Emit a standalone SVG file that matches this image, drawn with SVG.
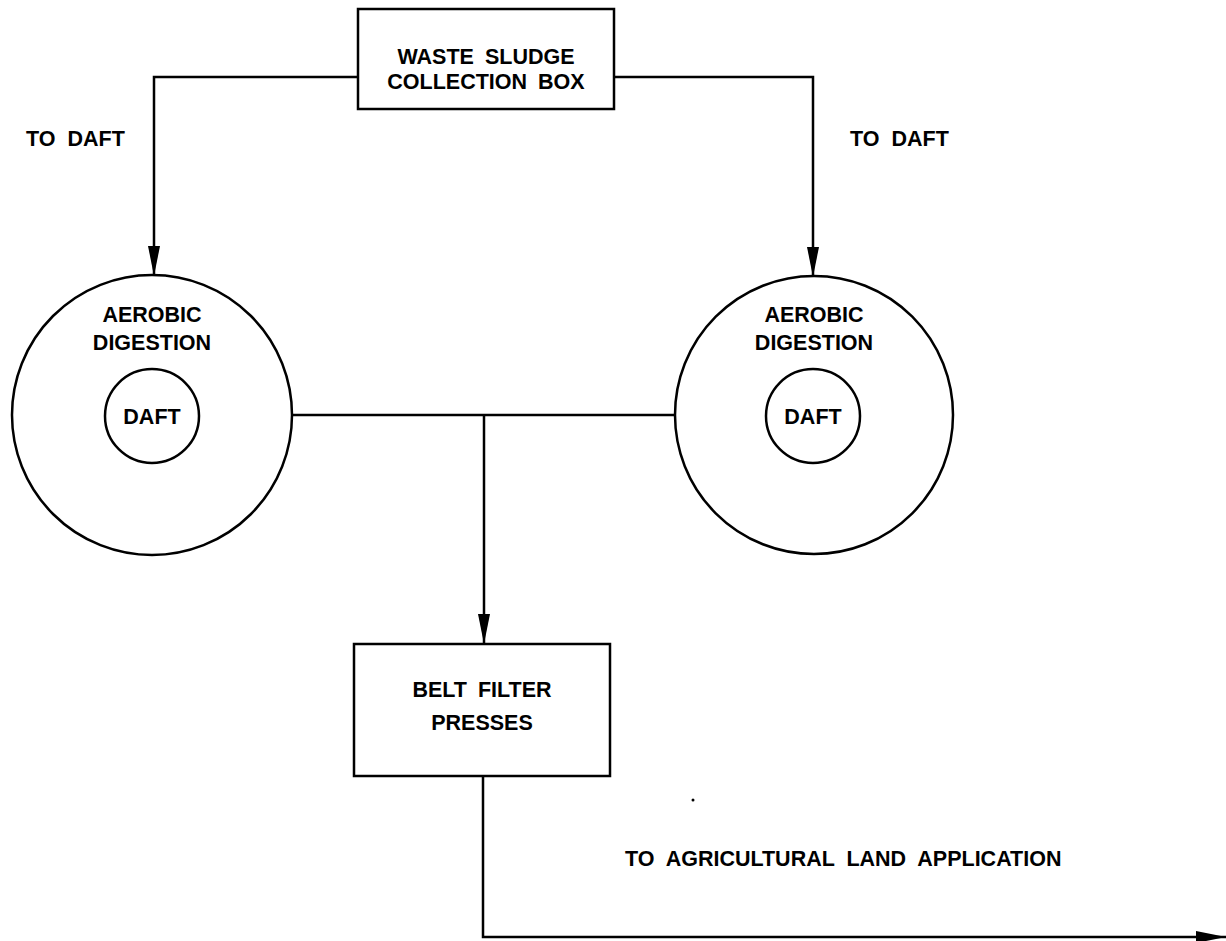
<svg xmlns="http://www.w3.org/2000/svg" width="1226" height="941" viewBox="0 0 1226 941">
<style>
.ln{fill:none;stroke:#000;stroke-width:2.5}
.sh{fill:#fff;stroke:#000;stroke-width:2.5}
.t{font-family:"Liberation Sans",Arial,sans-serif;font-weight:bold;font-size:21.5px;fill:#000;text-anchor:middle;word-spacing:5px}
.tl{font-family:"Liberation Sans",Arial,sans-serif;font-weight:bold;font-size:21.5px;fill:#000;word-spacing:6px}
</style>
<defs>
<marker id="ah" viewBox="0 0 30 12" refX="30" refY="6" markerWidth="30" markerHeight="12" markerUnits="userSpaceOnUse" orient="auto">
<path d="M0,0 L30,6 L0,12 Z" fill="#000"/>
</marker>
</defs>
<rect width="1226" height="941" fill="#fff"/>
<g id="connectors">
<path class="ln" d="M358,77 H154 V276" marker-end="url(#ah)"/>
<path class="ln" d="M614,77 H813 V277" marker-end="url(#ah)"/>
<path class="ln" d="M292,415 H675"/>
<path class="ln" d="M484,415 V644" marker-end="url(#ah)"/>
<path class="ln" d="M483,776 V937 H1226" marker-end="url(#ah)"/>
</g>
<g id="waste-sludge-box">
<rect class="sh" x="358" y="9" width="256" height="100"/>
<text class="t" x="486" y="64">WASTE SLUDGE</text>
<text class="t" x="486" y="89">COLLECTION BOX</text>
</g>
<g id="label-left">
<text class="tl" x="26" y="146">TO DAFT</text>
</g>
<g id="label-right">
<text class="tl" x="850" y="146">TO DAFT</text>
</g>
<g id="aerobic-left">
<circle class="sh" cx="152" cy="415" r="140"/>
<text class="t" x="152" y="322">AEROBIC</text>
<text class="t" x="152" y="350">DIGESTION</text>
</g>
<g id="daft-left">
<circle class="sh" cx="152" cy="416" r="47"/>
<text class="t" x="152" y="424">DAFT</text>
</g>
<g id="aerobic-right">
<circle class="sh" cx="814" cy="415" r="139"/>
<text class="t" x="814" y="322">AEROBIC</text>
<text class="t" x="814" y="350">DIGESTION</text>
</g>
<g id="daft-right">
<circle class="sh" cx="813" cy="416" r="47"/>
<text class="t" x="813" y="424">DAFT</text>
</g>
<g id="belt-filter">
<rect class="sh" x="354" y="644" width="256" height="132"/>
<text class="t" x="482" y="697">BELT FILTER</text>
<text class="t" x="482" y="730">PRESSES</text>
</g>
<g id="label-agri">
<text class="tl" x="625" y="866">TO AGRICULTURAL LAND APPLICATION</text>
</g>
<circle cx="693" cy="800" r="1.5" fill="#000"/>
</svg>
